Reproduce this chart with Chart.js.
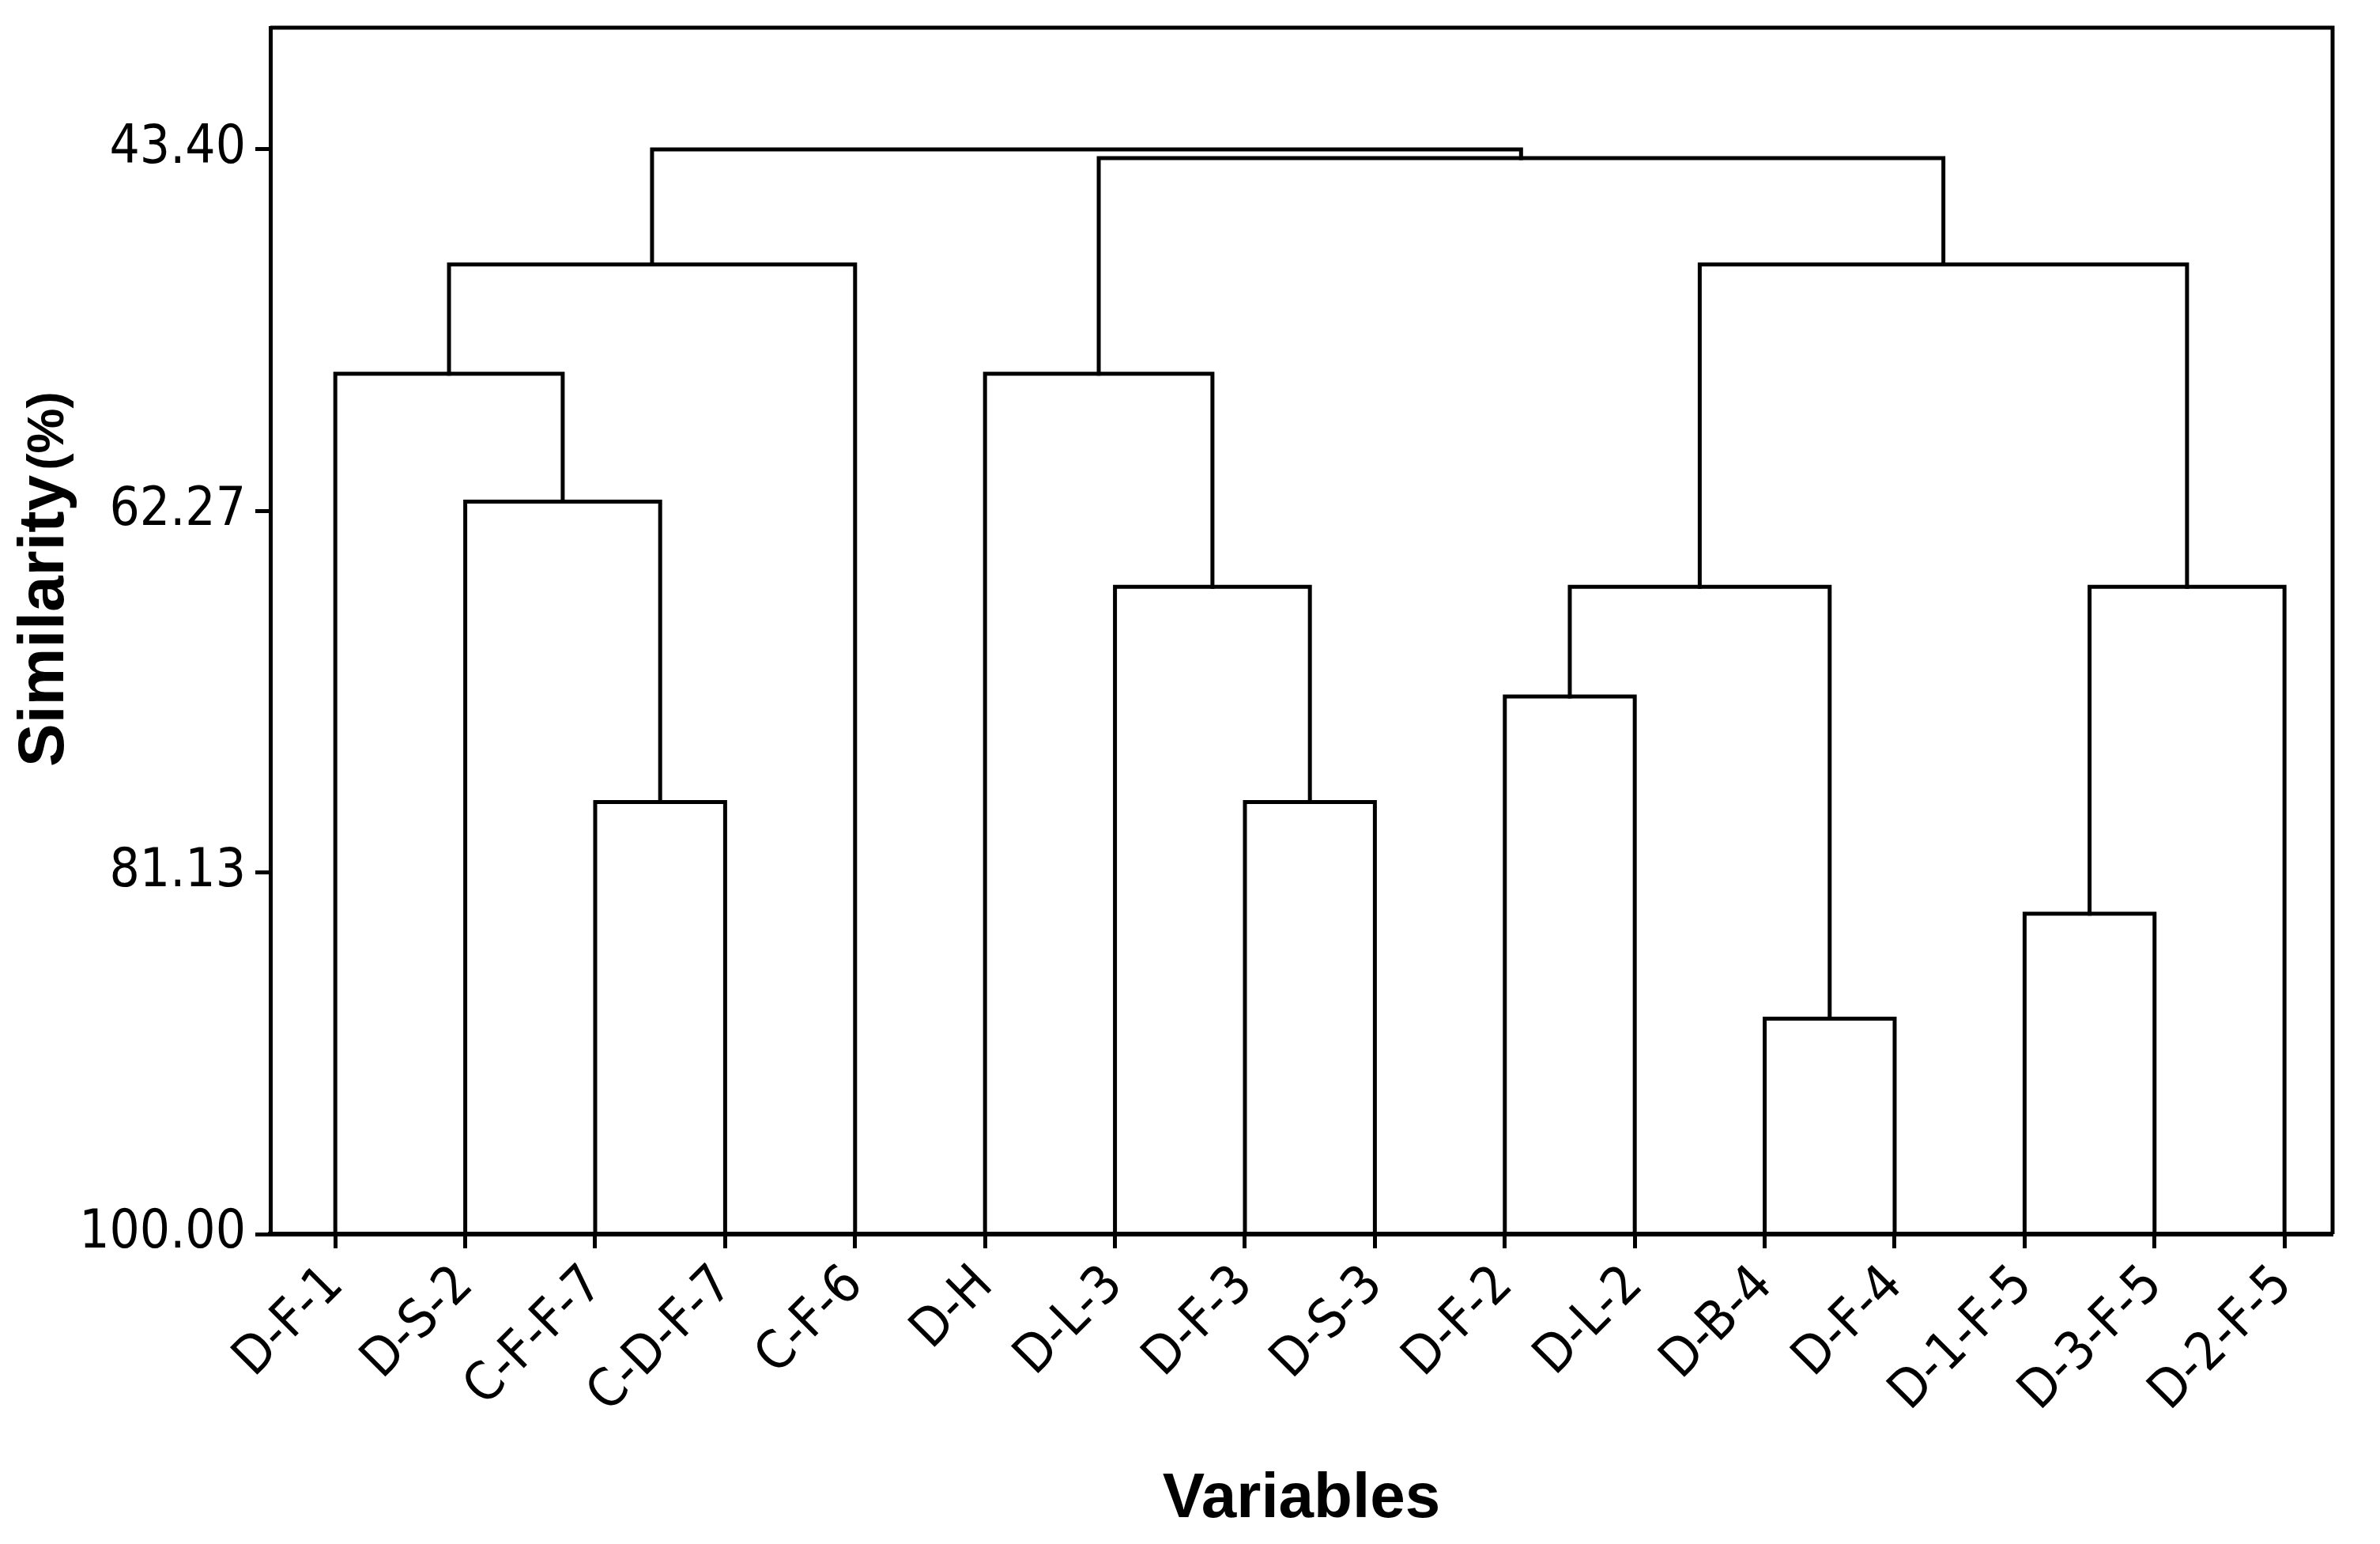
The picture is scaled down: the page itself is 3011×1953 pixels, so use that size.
<!DOCTYPE html>
<html>
<head>
<meta charset="utf-8">
<script src="https://cdn.jsdelivr.net/npm/chart.js@4.4.1/dist/chart.umd.min.js"></script>
<style>
  html, body { margin: 0; padding: 0; background: #fff; }
  #wrap { width: 3011px; height: 1953px; }
</style>
</head>
<body>
<div id="wrap"><canvas id="dendro" width="3011" height="1953"></canvas></div>
<script>
// leaves, in the order they sit along the x axis
const leafLabels = ['D-F-1', 'D-S-2', 'C-F-F-7', 'C-D-F-7', 'C-F-6', 'D-H', 'D-L-3', 'D-F-3',
                    'D-S-3', 'D-F-2', 'D-L-2', 'D-B-4', 'D-F-4', 'D-1-F-5', 'D-3-F-5', 'D-2-F-5'];

// merges: nodes 0..15 are the leaves, merge k creates node 16 + k
const mergeLeft  = [11, 13, 2, 7, 9, 20, 17, 6, 1, 0, 5, 21, 25, 26, 28];
const mergeRight = [12, 14, 3, 8, 10, 16, 15, 19, 18, 24, 23, 22, 4, 27, 29];
const mergeSim   = [88.76, 83.28, 77.46, 77.46, 71.95, 66.23, 66.23, 66.23,
                    61.78, 55.11, 55.11, 49.40, 49.40, 43.86, 43.40];

// y axis tick labels (similarity %)
const yTickValues = [43.40, 62.27, 81.13, 100.00];

//---------------------------BUILD LINKS---------------------------//
const nodeX = leafLabels.map((_, i) => i);
const nodeH = leafLabels.map(() => 100);
const links = [];
mergeSim.forEach((h, k) => {
    const a = mergeLeft[k];
    const b = mergeRight[k];
    links.push([
        { x: nodeX[a], y: nodeH[a] },
        { x: nodeX[a], y: h },
        { x: nodeX[b], y: h },
        { x: nodeX[b], y: nodeH[b] }
    ]);
    nodeX.push((nodeX[a] + nodeX[b]) / 2);
    nodeH.push(h);
});

const tickFont = { family: "'DejaVu Sans Condensed', 'DejaVu Sans', sans-serif", size: 67 };

// top and right edges of the box
const framePlugin = {
    id: 'frame',
    afterDraw(chart) {
        const { ctx, chartArea: a } = chart;
        ctx.save();
        ctx.strokeStyle = '#000';
        ctx.lineWidth = 5;
        ctx.beginPath();
        ctx.moveTo(a.left, a.top);
        ctx.lineTo(a.right, a.top);
        ctx.lineTo(a.right, a.bottom);
        ctx.stroke();
        ctx.restore();
    }
};

// y title: "Similarity" with a smaller "(%)"
const yTitlePlugin = {
    id: 'yTitle',
    afterDraw(chart) {
        const ctx = chart.ctx;
        ctx.save();
        ctx.translate(80, 970);
        ctx.rotate(-Math.PI / 2);
        ctx.fillStyle = '#000';
        ctx.textAlign = 'left';
        ctx.textBaseline = 'alphabetic';
        ctx.font = "bold 82px 'Liberation Sans', Arial, sans-serif";
        ctx.fillText('Similarity', 0, 0);
        const w = ctx.measureText('Similarity').width;
        ctx.font = "bold 64px 'Liberation Sans', Arial, sans-serif";
        ctx.fillText('(%)', w + 6, 0);
        ctx.restore();
    }
};

new Chart(document.getElementById('dendro'), {
    type: 'scatter',
    data: {
        datasets: links.map(pts => ({
            data: pts,
            showLine: true,
            borderColor: '#000',
            borderWidth: 5,
            pointRadius: 0,
            tension: 0,
            fill: false,
            borderJoinStyle: 'miter',
            borderCapStyle: 'square'
        }))
    },
    options: {
        responsive: false,
        animation: false,
        layout: { padding: { top: 35, right: 60, left: 0, bottom: 0 } },
        plugins: { legend: { display: false }, tooltip: { enabled: false } },
        scales: {
            x: {
                type: 'linear',
                min: -0.5,
                max: 15.37,
                afterBuildTicks: s => { s.ticks = leafLabels.map((_, i) => ({ value: i })); },
                afterFit: s => {
                    s.height = 392;
                    s.paddingLeft = 0;
                    s.paddingRight = 0;
                },
                grid: { drawOnChartArea: false, drawTicks: true, tickLength: 18, tickWidth: 5, tickColor: '#000' },
                border: { display: true, color: '#000', width: 6 },
                ticks: {
                    autoSkip: false,
                    minRotation: 45,
                    maxRotation: 45,
                    padding: 8,
                    color: '#000',
                    font: tickFont,
                    callback: v => leafLabels[v]
                },
                title: {
                    display: true,
                    text: 'Variables',
                    color: '#000',
                    font: { family: "'Liberation Sans', Arial, sans-serif", weight: 'bold', size: 80 },
                    padding: { top: 0, bottom: 8 }
                }
            },
            y: {
                type: 'linear',
                reverse: true,
                min: 37.05,
                max: 100,
                afterBuildTicks: s => { s.ticks = yTickValues.map(v => ({ value: v })); },
                afterFit: s => {
                    s.width = 342;
                    s.paddingTop = 0;
                    s.paddingBottom = 0;
                },
                grid: { drawOnChartArea: false, drawTicks: true, tickLength: 19, tickWidth: 5, tickColor: '#000' },
                border: { display: true, color: '#000', width: 5 },
                ticks: {
                    padding: 12,
                    color: '#000',
                    font: tickFont,
                    callback: v => v.toFixed(2)
                }
            }
        }
    },
    plugins: [framePlugin, yTitlePlugin]
});
</script>
</body>
</html>
